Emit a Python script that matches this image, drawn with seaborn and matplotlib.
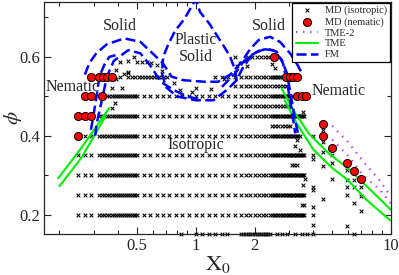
import pandas as pd
import seaborn as sns
import matplotlib.pyplot as plt
from matplotlib.ticker import FixedLocator, FixedFormatter, NullFormatter

sns.set_style("ticks")
plt.rcParams['font.family'] = ['Liberation Serif', 'DejaVu Serif']
plt.rcParams['mathtext.fontset'] = 'stix'

# --- MD isotropic points: X0 grids ---
x_left = [0.25, 0.27, 0.29]
x_fine = [0.32, 0.33, 0.34, 0.35, 0.36, 0.37, 0.38, 0.39, 0.40, 0.41, 0.42, 0.43,
          0.44, 0.45, 0.46, 0.47, 0.48, 0.49, 0.50]
x_mid = [0.54, 0.58, 0.63, 0.68, 0.73, 0.79, 0.85, 0.92, 1.0, 1.08, 1.17, 1.26,
         1.36, 1.47, 1.59, 1.71, 1.8, 1.9, 2.0, 2.1, 2.2, 2.3]
x_high = [2.4, 2.45, 2.5, 2.55, 2.6, 2.65, 2.7, 2.75, 2.8, 2.85, 2.9, 2.95, 3.0,
          3.05, 3.1, 3.15, 3.2, 3.25, 3.3, 3.35, 3.4, 3.45, 3.5, 3.55, 3.6]
x_row55 = [0.45, 0.47, 0.49, 0.51, 0.53, 0.55, 0.57, 0.59, 0.61, 0.63, 0.65, 0.67,
           0.69, 0.71]
x_row60 = [1.59, 1.85, 1.95, 2.05, 2.15, 2.25, 2.35]
x_row525 = [1.59, 1.71, 1.8, 1.9, 2.0, 2.1, 2.2, 2.3, 2.4, 2.5, 2.6, 2.7, 2.8, 2.9]
x_row475 = [1.59, 1.71, 1.8, 1.9, 2.0, 2.1, 2.2, 2.3, 2.4, 2.5, 2.6, 2.7, 2.8, 2.9, 2.97]
x_row425 = [2.45, 2.55, 2.65, 2.75, 2.85, 2.95, 3.05]
x_row15 = [0.84, 1.0, 1.08, 1.17, 1.26, 1.36, 1.44, 1.7, 1.75, 1.8, 1.85, 1.9, 1.95,
           2.0, 2.05, 2.1, 2.15, 2.2, 2.25, 2.3, 2.35, 2.4, 2.6, 2.76, 2.93, 3.23,
           3.5, 3.71, 3.98, 6.48]
full_rows = [0.2, 0.25, 0.3, 0.35]

# scattered isotropic points off the main rows
x_extra = [0.39, 0.41, 0.43, 0.45, 0.39, 0.45, 0.41, 0.45, 0.48, 0.5, 0.53, 0.56,
           0.59, 0.63, 0.67, 0.37, 0.42, 0.385, 0.37, 0.77, 0.83, 0.96, 1.0, 1.2,
           1.39, 1.62, 1.69, 1.79, 1.82, 2.45, 2.55,
           3.52, 3.98, 3.29, 3.23, 3.43, 3.98, 3.98, 3.1, 3.2, 3.3, 3.63, 3.56,
           3.98, 3.98, 3.5, 3.6, 3.98, 3.98, 3.98,
           4.48, 4.48, 4.48, 4.48, 4.48, 4.97, 4.97, 4.97, 5.95, 5.95, 5.95, 5.95,
           5.95, 6.48, 6.48, 6.48, 7.0, 7.0, 7.0]
phi_extra = [0.543, 0.55, 0.556, 0.558, 0.567, 0.562, 0.588, 0.59, 0.6, 0.588, 0.588,
             0.588, 0.584, 0.58, 0.565, 0.52, 0.52, 0.484, 0.47, 0.533, 0.516, 0.512,
             0.52, 0.518, 0.543, 0.577, 0.585, 0.59, 0.577, 0.583, 0.572,
             0.461, 0.40, 0.39, 0.374, 0.364, 0.35, 0.34, 0.326, 0.326, 0.326, 0.29,
             0.275, 0.27, 0.262, 0.225, 0.225, 0.22, 0.2, 0.174,
             0.415, 0.383, 0.358, 0.322, 0.24, 0.351, 0.33, 0.29, 0.313, 0.288,
             0.271, 0.25, 0.17, 0.288, 0.27, 0.229, 0.27, 0.248, 0.21]

# --- MD nematic points ---
x_nem = [0.25, 0.25, 0.27, 0.29, 0.27, 0.29, 0.33, 0.29, 0.32, 0.335, 0.35, 0.37,
         2.5, 2.9, 3.02, 3.16, 3.29, 3.29, 3.5, 3.68, 4.48, 4.48, 4.97, 5.95, 6.48, 7.0]
phi_nem = [0.4, 0.45, 0.45, 0.45, 0.5, 0.5, 0.5, 0.55, 0.55, 0.55, 0.55, 0.55,
           0.6, 0.55, 0.55, 0.55, 0.55, 0.5, 0.5, 0.5, 0.43, 0.4, 0.37, 0.33, 0.31, 0.29]

# --- TME-2 (two dotted branches) ---
tme2_a_x = [5.0, 6.0, 7.2, 8.8, 10.0]
tme2_a_y = [0.425, 0.385, 0.335, 0.285, 0.245]
tme2_b_x = [5.0, 6.0, 7.2, 8.8, 10.0]
tme2_b_y = [0.39, 0.35, 0.3, 0.262, 0.228]

# --- TME (solid green, two lines per side) ---
tme_l1_x = [0.197, 0.26, 0.36]
tme_l1_y = [0.292, 0.37, 0.47]
tme_l2_x = [0.2, 0.26, 0.345]
tme_l2_y = [0.272, 0.345, 0.45]
tme_r1_x = [2.75, 3.2, 3.8, 4.8, 6.0, 7.5, 10.0]
tme_r1_y = [0.52, 0.46, 0.405, 0.355, 0.318, 0.272, 0.212]
tme_r2_x = [2.85, 3.3, 4.0, 5.0, 6.0, 7.5, 10.0]
tme_r2_y = [0.49, 0.43, 0.365, 0.318, 0.288, 0.237, 0.184]

# --- FM (blue dashed) ---
fm1_x = [0.27, 0.285, 0.31, 0.35, 0.43, 0.52, 0.6, 0.68, 0.75, 0.86, 1.1, 1.3, 1.5,
         1.7, 1.9, 2.1, 2.4, 2.7, 3.04, 3.29, 3.5]
fm1_y = [0.555, 0.585, 0.61, 0.632, 0.647, 0.638, 0.609, 0.583, 0.55, 0.541, 0.537,
         0.537, 0.555, 0.585, 0.62, 0.643, 0.651, 0.638, 0.609, 0.583, 0.558]
fm2_x = [0.305, 0.31, 0.33, 0.35, 0.38, 0.45, 0.52, 0.59, 0.66, 0.77, 0.9, 1.05]
fm2_y = [0.40, 0.43, 0.49, 0.55, 0.59, 0.617, 0.609, 0.575, 0.537, 0.516, 0.5, 0.492]
fm3_x = [0.29, 0.30, 0.31, 0.32, 0.34, 0.36, 0.4]
fm3_y = [0.415, 0.457, 0.5, 0.55, 0.58, 0.6, 0.606]
fm4_x = [1.62, 1.58, 1.5, 1.4, 1.28, 1.17, 1.05, 1.0, 0.97, 0.87, 0.78, 0.72, 0.68,
         0.67, 0.7, 0.8, 1.0, 1.23, 1.44, 1.62, 1.75, 1.97, 2.3, 2.6, 2.8, 2.98, 3.1, 3.23]
fm4_y = [0.54, 0.57, 0.6, 0.625, 0.655, 0.685, 0.714, 0.745, 0.735, 0.695, 0.665,
         0.63, 0.6, 0.56, 0.524, 0.5, 0.49, 0.49, 0.516, 0.541, 0.575, 0.609, 0.621,
         0.613, 0.583, 0.516, 0.465, 0.406]
fm5_x = [1.36, 1.59, 1.72, 1.86, 2.18, 2.5, 2.76, 2.93, 3.05, 3.2, 3.35]
fm5_y = [0.524, 0.558, 0.583, 0.6, 0.62, 0.617, 0.592, 0.558, 0.51, 0.45, 0.40]

# assemble isotropic table
iso_x, iso_y = [], []
for p in full_rows:
    xs = x_left + x_fine + x_mid + x_high
    iso_x += xs
    iso_y += [p] * len(xs)
row_sets = [
    (0.4, x_left[1:] + x_fine + x_mid + x_high[:21]),
    (0.45, x_fine + x_mid + x_high),
    (0.5, x_fine[2:] + x_mid + x_high[:15]),
    (0.55, x_row55 + x_mid[11:] + x_high[:8]),
    (0.6, x_row60),
    (0.525, x_row525),
    (0.475, x_row475),
    (0.425, x_row425),
    (0.15, x_row15),
]
for p, xs in row_sets:
    iso_x += xs
    iso_y += [p] * len(xs)
iso_x += x_extra
iso_y += phi_extra
iso = pd.DataFrame({'X0': iso_x, 'phi': iso_y})
nem = pd.DataFrame({'X0': x_nem, 'phi': phi_nem})

fig = plt.figure(figsize=(3.99, 2.75), dpi=100)
ax = fig.add_axes([44 / 399, 1 - 234.3 / 275, 347 / 399, 232.6 / 275])
ax.set_xscale('log')

sns.scatterplot(data=iso, x='X0', y='phi', marker='x', color='black', s=7,
                linewidth=0.75, ax=ax, label='MD (isotropic)', clip_on=False, zorder=2)

green = '#00ee00'
blue = '#0000ff'
purple = '#b030e8'
for xs, ys, lab in [(tme2_a_x, tme2_a_y, 'TME-2'), (tme2_b_x, tme2_b_y, None)]:
    sns.lineplot(x=xs, y=ys, sort=False, estimator=None, color=purple, lw=1.6,
                 linestyle=(0, (0.6, 2.6)), ax=ax, label=lab, zorder=3)
for xs, ys, lab in [(tme_l1_x, tme_l1_y, 'TME'), (tme_l2_x, tme_l2_y, None),
                    (tme_r1_x, tme_r1_y, None), (tme_r2_x, tme_r2_y, None)]:
    sns.lineplot(x=xs, y=ys, sort=False, estimator=None, color=green, lw=1.5,
                 ax=ax, label=lab, zorder=3)
for xs, ys, lab in [(fm1_x, fm1_y, 'FM'), (fm2_x, fm2_y, None), (fm3_x, fm3_y, None),
                    (fm4_x, fm4_y, None), (fm5_x, fm5_y, None)]:
    sns.lineplot(x=xs, y=ys, sort=False, estimator=None, color=blue, lw=1.8,
                 linestyle=(0, (4, 1.8)), ax=ax, label=lab, zorder=3)

sns.scatterplot(data=nem, x='X0', y='phi', marker='o', color='red', edgecolor='black',
                s=34, linewidth=0.7, ax=ax, label='MD (nematic)', zorder=4)

ax.set_xlim(0.1667, 10)
ax.set_ylim(0.15, 0.74)
ax.xaxis.set_major_locator(FixedLocator([0.5, 1, 2, 10]))
ax.xaxis.set_major_formatter(FixedFormatter(['0.5', '1', '2', '10']))
ax.xaxis.set_minor_locator(FixedLocator([0.2, 0.3, 0.4, 0.6, 0.7, 0.8, 0.9,
                                         3, 4, 5, 6, 7, 8, 9]))
ax.xaxis.set_minor_formatter(NullFormatter())
ax.yaxis.set_major_locator(FixedLocator([0.2, 0.4, 0.6]))
ax.yaxis.set_minor_locator(FixedLocator([0.3, 0.5, 0.7]))
ax.tick_params(which='both', direction='in', top=True, right=True, labelsize=12,
               width=0.8, pad=3)
ax.tick_params(which='major', length=5)
ax.tick_params(which='minor', length=3)
for s in ax.spines.values():
    s.set_linewidth(0.9)
ax.set_xlabel(r'$\mathrm{X}_0$', fontsize=16, labelpad=0)
ax.set_ylabel(r'$\phi$', fontsize=15, va='center')
ax.yaxis.set_label_coords(-0.088, 0.5)

tkw = dict(ha='center', va='center', fontsize=11.5)
ax.text(0.409, 0.678, 'Solid', **tkw)
ax.text(2.36, 0.679, 'Solid', **tkw)
ax.text(1.0, 0.622, 'Plastic\nSolid', linespacing=1.05, **tkw)
ax.text(0.235, 0.524, 'Nematic', **tkw)
ax.text(5.37, 0.513, 'Nematic', **tkw)
ax.text(1.0, 0.377, 'Isotropic', **tkw)

h, l = ax.get_legend_handles_labels()
order = ['MD (isotropic)', 'MD (nematic)', 'TME-2', 'TME', 'FM']
hd = dict(zip(l, h))
leg = ax.legend([hd[k] for k in order], order, loc='upper right', fontsize=7.5,
                frameon=True, fancybox=False, edgecolor='black', framealpha=1,
                borderpad=0.3, labelspacing=0.15, handlelength=2.2,
                handletextpad=0.6, borderaxespad=0.1)
leg.get_frame().set_linewidth(0.9)
leg.set_zorder(10)

fig.savefig('out.png', dpi=100)
